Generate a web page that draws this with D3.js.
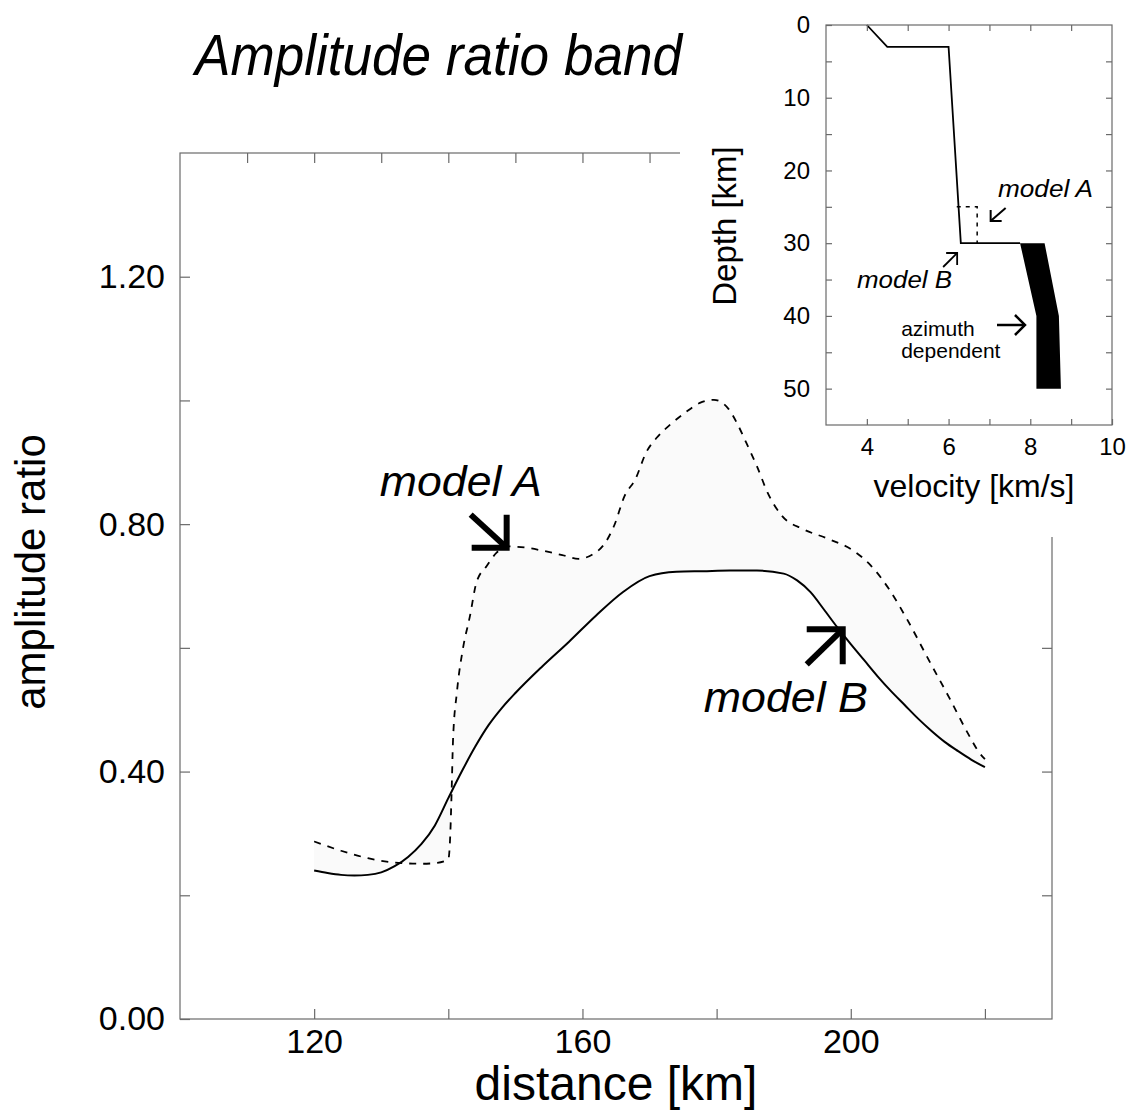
<!DOCTYPE html>
<html>
<head>
<meta charset="utf-8">
<script src="https://cdn.jsdelivr.net/npm/d3@7"></script>
<style>
    body { margin: 0; background: #fff; }
    svg text { font-family: "Liberation Sans", Arial, Helvetica, sans-serif; fill: #000; }
    .frame { fill: none; stroke: #6a6a6a; stroke-width: 1.2; }
    .axis path { display: none; }
    .axis line { stroke: #6a6a6a; stroke-width: 1.2; }
    .axis text { fill: #000; }
</style>
</head>
<body>
<div id="chart"></div>
<script>

// ---- main panel: amplitude ratio vs distance ----
const distB = [120, 122, 124, 126, 128, 130, 132, 134, 136, 138, 140, 142, 144, 146, 148, 150,
    154, 158, 162, 166, 170, 174, 178, 182, 186, 190,
    192, 194, 196, 198, 200, 202, 204, 206, 208, 210, 212, 214, 216, 218, 220];
const ampB = [0.240, 0.236, 0.233, 0.232, 0.233, 0.237, 0.247, 0.262, 0.283, 0.313, 0.357, 0.400, 0.440, 0.475, 0.503, 0.527,
    0.570, 0.610, 0.652, 0.690, 0.716, 0.723, 0.724, 0.725, 0.725, 0.720,
    0.709, 0.690, 0.662, 0.633, 0.606, 0.580, 0.554, 0.530, 0.508, 0.486, 0.466, 0.448, 0.433, 0.419, 0.407];

const distA = [120, 124, 128, 132, 136, 138, 140,
    140.3, 140.5, 140.7, 141.3, 142.2, 143.2,
    144.2, 145.7, 147.2, 148.7, 151.6, 154.1, 157, 159.4, 161.5, 163.4,
    164.7, 166.3, 167.9, 169.5, 171.1, 173.2, 175.4, 177.5, 179.6, 181.8,
    183.1, 184.4, 186, 187.6, 189.7, 192.9, 196.7, 200.4, 203, 205.7,
    208.4, 211.6, 214.8, 217.4, 219.2, 220];
const ampA = [0.287, 0.272, 0.260, 0.253, 0.251, 0.252, 0.258,
    0.30, 0.37, 0.45, 0.53, 0.60, 0.65,
    0.706, 0.732, 0.754, 0.764, 0.762, 0.757, 0.750, 0.744, 0.751, 0.770,
    0.797, 0.846, 0.873, 0.916, 0.940, 0.962, 0.981, 0.996, 1.001, 0.986,
    0.962, 0.932, 0.894, 0.851, 0.814, 0.792, 0.776, 0.757, 0.733, 0.695,
    0.646, 0.581, 0.517, 0.463, 0.430, 0.420];

const distTicks = [120, 140, 160, 180, 200, 220];
const distLabels = [120, 160, 200];
const distTopTicks = [110, 120, 130, 140, 150, 160, 170, 180, 190, 200, 210, 220];
const ampTicks = [0.2, 0.4, 0.6, 0.8, 1.0, 1.2];
const ampLabels = [0, 0.4, 0.8, 1.2];

// ---- inset: velocity profile ----
const velB = [4.0, 4.5, 6.0, 6.3, 7.75];
const depthB = [0, 3, 3, 30, 30];
const velA = [6.2, 6.7, 6.7];
const depthA = [25, 25, 30];
const bandDepth = [30, 40, 50];
const bandLeft = [7.75, 8.15, 8.15];
const bandRight = [8.35, 8.7, 8.75];

const velTicks = [4, 5, 6, 7, 8, 9];
const velLabels = [4, 6, 8, 10];
const depthTicks = [5, 10, 15, 20, 25, 30, 35, 40, 45, 50];
const depthLabels = [0, 10, 20, 30, 40, 50];


let svg = d3.select("#chart").append("svg")
    .attr("width", 1133)
    .attr("height", 1116);

//---------------------------------------------------------------- main panel
let margin = { top: 153, left: 180 };
let width = 872, height = 866;

let main = svg.append("g")
    .attr("transform", "translate(" + margin.left + "," + margin.top + ")");

let x = d3.scaleLinear().domain([100, 230]).range([0, width]);
let y = d3.scaleLinear().domain([0, 1.4]).range([height, 0]);

let line = d3.line()
    .x(d => x(d[0]))
    .y(d => y(d[1]))
    .curve(d3.curveMonotoneX);

let ptsB = d3.zip(distB, ampB);
let ptsA = d3.zip(distA, ampA);

// the band between the two models is only a faint stipple in the scan
let bandPath = line(ptsB) + "L" + line(ptsA.slice().reverse()).slice(1) + "Z";
main.append("path")
    .attr("d", bandPath)
    .attr("fill", "#fafafa")
    .attr("stroke", "none");

main.append("path")
    .attr("d", line(ptsA))
    .attr("fill", "none")
    .attr("stroke", "#000")
    .attr("stroke-width", 1.8)
    .attr("stroke-dasharray", "7,7");

main.append("path")
    .attr("d", line(ptsB))
    .attr("fill", "none")
    .attr("stroke", "#000")
    .attr("stroke-width", 2);

// frame and inner ticks
main.append("rect")
    .attr("class", "frame")
    .attr("width", width)
    .attr("height", height);

main.append("g")
    .attr("class", "axis")
    .attr("transform", "translate(0," + height + ")")
    .call(d3.axisBottom(x).tickValues(distTicks).tickSizeInner(-10).tickSizeOuter(0).tickPadding(10)
        .tickFormat(d => distLabels.includes(d) ? d : ""))
    .attr("font-size", 34)
    .attr("font-family", null);

main.append("g")
    .attr("class", "axis")
    .call(d3.axisTop(x).tickValues(distTopTicks).tickSizeInner(-10).tickSizeOuter(0).tickFormat(""));

main.append("g")
    .attr("class", "axis")
    .call(d3.axisLeft(y).tickValues([0].concat(ampTicks)).tickSizeInner(-10).tickSizeOuter(0).tickPadding(15)
        .tickFormat(d => ampLabels.some(v => Math.abs(v - d) < 1e-9) ? d3.format(".2f")(d) : ""))
    .attr("font-size", 34)
    .attr("font-family", null);

main.append("g")
    .attr("class", "axis")
    .attr("transform", "translate(" + width + ",0)")
    .call(d3.axisRight(y).tickValues(ampTicks).tickSizeInner(-10).tickSizeOuter(0).tickFormat(""));

// axis titles
svg.append("text")
    .attr("transform", "translate(45,572) rotate(-90)")
    .attr("text-anchor", "middle")
    .attr("font-size", 42)
    .text("amplitude ratio");

svg.append("text")
    .attr("x", 616)
    .attr("y", 1100)
    .attr("text-anchor", "middle")
    .attr("font-size", 48)
    .text("distance [km]");

// annotation arrows: a shaft plus a right-angle head at the tip
function arrow(g, tip, tail, arm1, arm2, sw) {
    g.append("path")
        .attr("d", "M" + (tip[0] + tail[0]) + "," + (tip[1] + tail[1]) + "L" + tip[0] + "," + tip[1])
        .attr("fill", "none").attr("stroke", "#000").attr("stroke-width", sw);
    g.append("path")
        .attr("d", "M" + (tip[0] + arm1[0]) + "," + (tip[1] + arm1[1]) + "L" + tip[0] + "," + tip[1] +
            "L" + (tip[0] + arm2[0]) + "," + (tip[1] + arm2[1]))
        .attr("fill", "none").attr("stroke", "#000").attr("stroke-width", sw)
        .attr("stroke-linejoin", "miter").attr("stroke-miterlimit", 10);
}

let tipA = [x(148.7), y(0.762)];
arrow(main, tipA, [-36, -33], [0, -33], [-35, 0], 6);
main.append("text")
    .attr("x", x(129.8)).attr("y", y(0.845))
    .attr("font-size", 43).attr("font-style", "italic")
    .attr("textLength", 162).attr("lengthAdjust", "spacingAndGlyphs")
    .text("model A");

let tipB = [x(198.8), y(0.630)];
arrow(main, tipB, [-36, 35], [0, 35], [-36, 0], 6);
main.append("text")
    .attr("x", x(178.1)).attr("y", y(0.496))
    .attr("font-size", 43).attr("font-style", "italic")
    .attr("textLength", 164).attr("lengthAdjust", "spacingAndGlyphs")
    .text("model B");

//---------------------------------------------------------------- inset panel
// white cover behind the inset
svg.append("path")
    .attr("d", "M680,0H1133V537H842V395H680Z")
    .attr("fill", "#fff");

let inMargin = { top: 25, left: 826 };
let inWidth = 286, inHeight = 400;

let inset = svg.append("g")
    .attr("transform", "translate(" + inMargin.left + "," + inMargin.top + ")");

let vx = d3.scaleLinear().domain([3, 10]).range([0, inWidth]);
let dy = d3.scaleLinear().domain([0, 55]).range([0, inHeight]);

let profLine = d3.line()
    .x(d => vx(d[0]))
    .y(d => dy(d[1]));

// azimuth dependent band
let bandPts = d3.zip(bandLeft, bandDepth).concat(d3.zip(bandRight, bandDepth).reverse());
inset.append("path")
    .attr("d", profLine(bandPts) + "Z")
    .attr("fill", "#000");

inset.append("path")
    .attr("d", profLine(d3.zip(velB, depthB)))
    .attr("fill", "none")
    .attr("stroke", "#000")
    .attr("stroke-width", 1.8);

inset.append("path")
    .attr("d", profLine(d3.zip(velA, depthA)))
    .attr("fill", "none")
    .attr("stroke", "#000")
    .attr("stroke-width", 1.5)
    .attr("stroke-dasharray", "4,5");

inset.append("rect")
    .attr("class", "frame")
    .attr("width", inWidth)
    .attr("height", inHeight);

inset.append("g")
    .attr("class", "axis")
    .attr("transform", "translate(0," + inHeight + ")")
    .call(d3.axisBottom(vx).tickValues(velTicks.concat([10])).tickSizeInner(-6).tickSizeOuter(0).tickPadding(13)
        .tickFormat(d => velLabels.includes(d) ? d : ""))
    .attr("font-size", 24)
    .attr("font-family", null);

inset.append("g")
    .attr("class", "axis")
    .call(d3.axisTop(vx).tickValues(velTicks).tickSizeInner(-6).tickSizeOuter(0).tickFormat(""));

inset.append("g")
    .attr("class", "axis")
    .call(d3.axisLeft(dy).tickValues([0].concat(depthTicks)).tickSizeInner(-6).tickSizeOuter(0).tickPadding(16)
        .tickFormat(d => depthLabels.includes(d) ? d : ""))
    .attr("font-size", 24)
    .attr("font-family", null);

inset.append("g")
    .attr("class", "axis")
    .attr("transform", "translate(" + inWidth + ",0)")
    .call(d3.axisRight(dy).tickValues(depthTicks).tickSizeInner(-6).tickSizeOuter(0).tickFormat(""));

svg.append("text")
    .attr("transform", "translate(736,226) rotate(-90)")
    .attr("text-anchor", "middle")
    .attr("font-size", 33)
    .text("Depth [km]");

svg.append("text")
    .attr("x", 974)
    .attr("y", 497)
    .attr("text-anchor", "middle")
    .attr("font-size", 32)
    .text("velocity [km/s]");

// inset annotations
arrow(inset, [vx(7.03), dy(26.95)], [15, -13], [0, -11], [11, 0], 2);
inset.append("text")
    .attr("x", vx(7.21)).attr("y", dy(23.65))
    .attr("font-size", 24).attr("font-style", "italic")
    .attr("textLength", 95).attr("lengthAdjust", "spacingAndGlyphs")
    .text("model A");

arrow(inset, [vx(6.21), dy(31.35)], [-14, 14], [0, 12], [-11, 0], 1.8);
inset.append("text")
    .attr("x", vx(3.76)).attr("y", dy(36.2))
    .attr("font-size", 24).attr("font-style", "italic")
    .attr("textLength", 95).attr("lengthAdjust", "spacingAndGlyphs")
    .text("model B");

arrow(inset, [vx(7.87), dy(41.25)], [-28, 0], [-10, -10], [-10, 10], 2.5);
inset.append("text")
    .attr("x", vx(4.84)).attr("y", dy(42.7))
    .attr("font-size", 21)
    .text("azimuth");
inset.append("text")
    .attr("x", vx(4.84)).attr("y", dy(45.8))
    .attr("font-size", 21)
    .text("dependent");

// title last so the inset cover does not clip it
svg.append("text")
    .attr("x", 195)
    .attr("y", 75)
    .attr("font-size", 57)
    .attr("font-style", "italic")
    .attr("textLength", 487)
    .attr("lengthAdjust", "spacingAndGlyphs")
    .text("Amplitude ratio band");

</script>
</body>
</html>
